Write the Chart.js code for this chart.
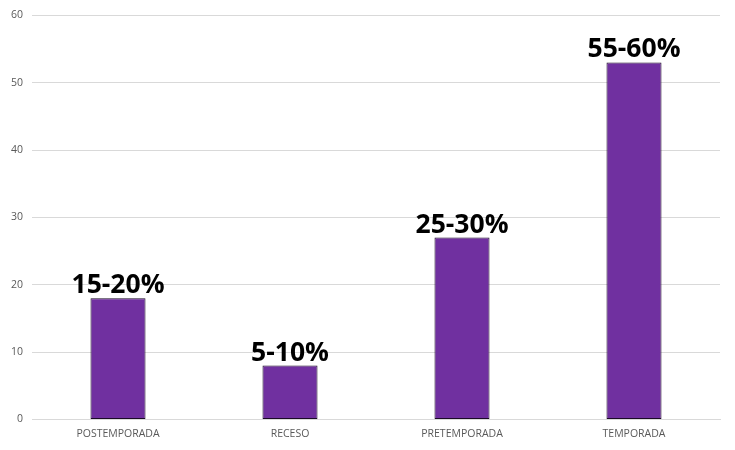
<!DOCTYPE html>
<html>
<head>
<meta charset="utf-8">
<script src="https://cdn.jsdelivr.net/npm/chart.js@4/dist/chart.umd.min.js"></script>
<style>
  html, body { margin:0; padding:0; background:#fff; }
  #wrap { width:735px; height:450px; }
</style>
</head>
<body>
<div id="wrap"><canvas id="chart" width="735" height="450"></canvas></div>
<script>
// data
const categories = ['POSTEMPORADA', 'RECESO', 'PRETEMPORADA', 'TEMPORADA'];
const values = [18, 8, 27, 53];
const rangeLabels = ['15-20%', '5-10%', '25-30%', '55-60%'];
const yTicks = [0, 10, 20, 30, 40, 50, 60];

const barColor = '#7030a0';

// draws the big bold range label above each bar
const topLabels = {
  id: 'topLabels',
  afterDatasetsDraw(chart){
    const ctx = chart.ctx;
    const meta = chart.getDatasetMeta(0);
    ctx.save();
    ctx.font = 'bold 26.5px "Open Sans", sans-serif';
    ctx.fillStyle = '#000';
    ctx.textAlign = 'center';
    ctx.textBaseline = 'alphabetic';
    meta.data.forEach((bar, i) => {
      ctx.fillText(rangeLabels[i], bar.x, bar.y - 5);
    });
    ctx.restore();
  }
};

new Chart(document.getElementById('chart'), {
  type: 'bar',
  data: {
    labels: categories,
    datasets: [{
      data: values,
      backgroundColor: barColor,
      borderColor: '#1a0a26',
      borderWidth: 1,
      borderSkipped: false,
      barPercentage: 0.32,
      categoryPercentage: 1
    }]
  },
  options: {
    responsive: false,
    animation: false,
    layout: { padding: { top: 8, right: 15, left: 2, bottom: 2 } },
    plugins: { legend: { display: false }, tooltip: { enabled: false } },
    scales: {
      y: {
        min: 0, max: 60,
        afterBuildTicks: axis => { axis.ticks = yTicks.map(v => ({ value: v })); },
        ticks: { color: '#595959', font: { family: 'Open Sans', size: 10.5 }, padding: 9 },
        grid: { color: '#d9d9d9', drawTicks: false },
        border: { display: false }
      },
      x: {
        ticks: { color: '#595959', font: { family: 'Open Sans', size: 10.5 }, padding: 8, maxRotation: 0 },
        grid: { display: false, drawTicks: false },
        border: { color: '#d9d9d9' }
      }
    }
  },
  plugins: [topLabels]
});
</script>
</body>
</html>
